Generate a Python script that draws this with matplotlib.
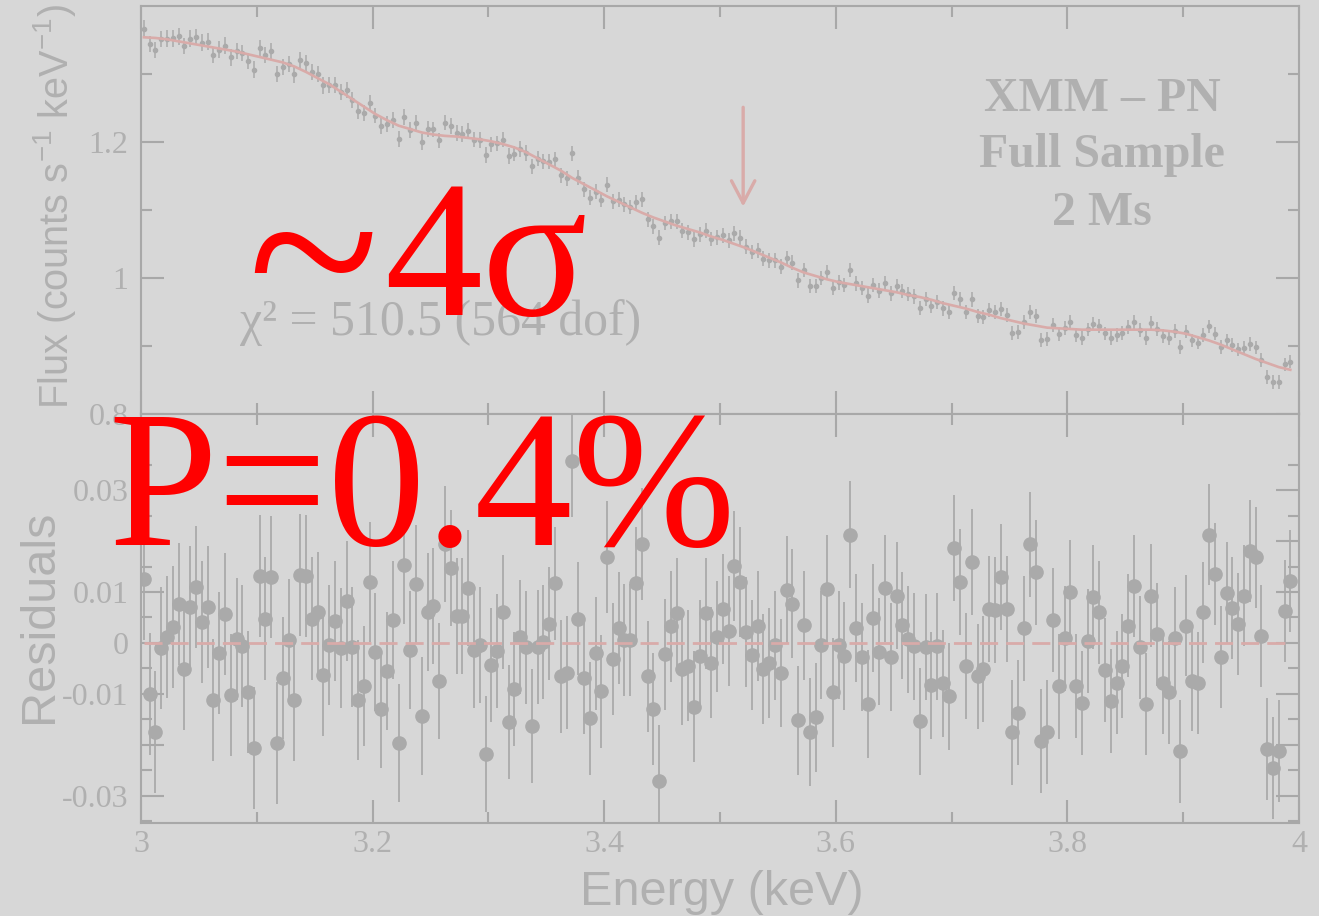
import numpy as np
import matplotlib
matplotlib.use("Agg")
import matplotlib.pyplot as plt
from matplotlib.ticker import FixedLocator, FixedFormatter, NullFormatter

plt.rcParams["axes.unicode_minus"] = False
plt.rcParams["mathtext.fontset"] = "custom"
plt.rcParams["mathtext.rm"] = "Liberation Sans"
plt.rcParams["mathtext.it"] = "Liberation Sans:italic"
plt.rcParams["mathtext.bf"] = "Liberation Sans:bold"

# Spectral bins: 5 eV wide, first bin centred at 3.0025 keV
BIN_START = 3.0025
BIN_WIDTH = 0.005
N_BINS = 199

# Observed flux (counts s^-1 keV^-1) per bin
FLUX = [1.3667, 1.3438, 1.3356, 1.3512, 1.3521, 1.3524, 1.3553, 1.3411, 1.3520, 1.3545,
        1.3462, 1.3477, 1.3279, 1.3358, 1.3419, 1.3244, 1.3336, 1.3305, 1.3195, 1.3066,
        1.3386, 1.3282, 1.3343, 1.2996, 1.3100, 1.3146, 1.2994, 1.3203, 1.3160, 1.3034,
        1.3001, 1.2831, 1.2841, 1.2838, 1.2732, 1.2769, 1.2622, 1.2460, 1.2432, 1.2580,
        1.2389, 1.2230, 1.2260, 1.2323, 1.2048, 1.2369, 1.2175, 1.2281, 1.2000, 1.2187,
        1.2185, 1.2025, 1.2286, 1.2232, 1.2129, 1.2120, 1.2167, 1.2034, 1.2031, 1.1806,
        1.1965, 1.1978, 1.2035, 1.1794, 1.1830, 1.1896, 1.1837, 1.1641, 1.1753, 1.1718,
        1.1710, 1.1743, 1.1511, 1.1467, 1.1832, 1.1472, 1.1307, 1.1182, 1.1266, 1.1149,
        1.1371, 1.1128, 1.1148, 1.1084, 1.1044, 1.1116, 1.1157, 1.0861, 1.0763, 1.0591,
        1.0810, 1.0836, 1.0833, 1.0695, 1.0675, 1.0568, 1.0641, 1.0697, 1.0574, 1.0599,
        1.0628, 1.0556, 1.0656, 1.0592, 1.0462, 1.0384, 1.0406, 1.0286, 1.0261, 1.0259,
        1.0167, 1.0291, 1.0227, 0.9964, 1.0119, 0.9880, 0.9882, 0.9998, 1.0084, 0.9860,
        0.9934, 0.9896, 1.0119, 0.9921, 0.9849, 0.9742, 0.9897, 0.9816, 0.9925, 0.9774,
        0.9880, 0.9806, 0.9761, 0.9729, 0.9563, 0.9688, 0.9592, 0.9647, 0.9553, 0.9506,
        0.9777, 0.9687, 0.9502, 0.9684, 0.9437, 0.9429, 0.9525, 0.9500, 0.9541, 0.9455,
        0.9190, 0.9210, 0.9358, 0.9507, 0.9438, 0.9092, 0.9099, 0.9309, 0.9172, 0.9261,
        0.9347, 0.9159, 0.9123, 0.9243, 0.9329, 0.9297, 0.9184, 0.9124, 0.9161, 0.9194,
        0.9275, 0.9355, 0.9235, 0.9123, 0.9333, 0.9252, 0.9149, 0.9122, 0.9218, 0.8981,
        0.9211, 0.9081, 0.9051, 0.9164, 0.9289, 0.9182, 0.8988, 0.9082, 0.9017, 0.8951,
        0.8973, 0.9027, 0.8980, 0.8794, 0.8540, 0.8472, 0.8475, 0.8728, 0.8770]

# Best-fit model, sampled at every second bin
MODEL = [1.354, 1.353, 1.351, 1.348, 1.345, 1.342, 1.339, 1.336, 1.333, 1.329,
         1.325, 1.321, 1.317, 1.311, 1.303, 1.294, 1.285, 1.274, 1.263, 1.252,
         1.241, 1.232, 1.224, 1.219, 1.214, 1.211, 1.209, 1.208, 1.206, 1.204,
         1.201, 1.197, 1.192, 1.185, 1.176, 1.167, 1.158, 1.147, 1.138, 1.129,
         1.120, 1.112, 1.104, 1.096, 1.089, 1.083, 1.077, 1.072, 1.067, 1.061,
         1.056, 1.050, 1.044, 1.037, 1.030, 1.023, 1.015, 1.008, 1.003, 0.998,
         0.994, 0.991, 0.988, 0.985, 0.982, 0.979, 0.975, 0.972, 0.968, 0.963,
         0.959, 0.955, 0.950, 0.946, 0.941, 0.937, 0.933, 0.930, 0.927, 0.926,
         0.925, 0.924, 0.924, 0.924, 0.924, 0.924, 0.924, 0.924, 0.923, 0.921,
         0.918, 0.913, 0.908, 0.902, 0.895, 0.888, 0.881, 0.875, 0.869, 0.865]

# Data minus model per bin
RESID = [0.0125, -0.0101, -0.0176, -0.0010, 0.0012, 0.0032, 0.0076, -0.0052, 0.0071, 0.0110,
         0.0041, 0.0070, -0.0113, -0.0019, 0.0057, -0.0102, 0.0007, -0.0006, -0.0097, -0.0207,
         0.0132, 0.0048, 0.0129, -0.0197, -0.0069, 0.0006, -0.0113, 0.0133, 0.0131, 0.0048,
         0.0060, -0.0064, -0.0005, 0.0043, -0.0010, 0.0082, -0.0008, -0.0112, -0.0084, 0.0120,
         -0.0018, -0.0129, -0.0056, 0.0045, -0.0197, 0.0154, -0.0014, 0.0116, -0.0144, 0.0061,
         0.0073, -0.0075, 0.0195, 0.0148, 0.0052, 0.0052, 0.0108, -0.0014, -0.0005, -0.0218,
         -0.0044, -0.0015, 0.0061, -0.0156, -0.0090, 0.0011, -0.0009, -0.0163, -0.0008, 0.0001,
         0.0038, 0.0117, -0.0066, -0.0059, 0.0358, 0.0048, -0.0069, -0.0148, -0.0020, -0.0095,
         0.0169, -0.0032, 0.0029, 0.0006, 0.0006, 0.0117, 0.0195, -0.0066, -0.0130, -0.0271,
         -0.0022, 0.0033, 0.0058, -0.0052, -0.0045, -0.0125, -0.0025, 0.0058, -0.0039, 0.0012,
         0.0067, 0.0023, 0.0152, 0.0119, 0.0022, -0.0023, 0.0033, -0.0052, -0.0040, -0.0005,
         -0.0059, 0.0104, 0.0077, -0.0152, 0.0035, -0.0175, -0.0146, -0.0004, 0.0106, -0.0097,
         -0.0004, -0.0025, 0.0213, 0.0029, -0.0028, -0.0120, 0.0049, -0.0017, 0.0107, -0.0028,
         0.0093, 0.0035, 0.0007, -0.0007, -0.0154, -0.0008, -0.0083, -0.0007, -0.0079, -0.0105,
         0.0187, 0.0119, -0.0045, 0.0159, -0.0066, -0.0052, 0.0067, 0.0065, 0.0130, 0.0067,
         -0.0176, -0.0137, 0.0029, 0.0194, 0.0139, -0.0193, -0.0175, 0.0045, -0.0085, 0.0009,
         0.0100, -0.0084, -0.0118, 0.0004, 0.0091, 0.0060, -0.0053, -0.0114, -0.0078, -0.0046,
         0.0034, 0.0112, -0.0009, -0.0120, 0.0093, 0.0017, -0.0079, -0.0097, 0.0009, -0.0213,
         0.0034, -0.0074, -0.0079, 0.0060, 0.0213, 0.0135, -0.0028, 0.0099, 0.0068, 0.0037,
         0.0093, 0.0181, 0.0168, 0.0014, -0.0208, -0.0246, -0.0213, 0.0063, 0.0122]

# 1-sigma uncertainty per bin (same for flux and residual)
ERR = [0.0120, 0.0120, 0.0120, 0.0120, 0.0120, 0.0120, 0.0120, 0.0120, 0.0120, 0.0120,
       0.0120, 0.0120, 0.0120, 0.0120, 0.0120, 0.0120, 0.0120, 0.0120, 0.0120, 0.0120,
       0.0120, 0.0120, 0.0120, 0.0120, 0.0120, 0.0120, 0.0120, 0.0120, 0.0120, 0.0120,
       0.0118, 0.0118, 0.0118, 0.0118, 0.0118, 0.0118, 0.0118, 0.0118, 0.0118, 0.0118,
       0.0116, 0.0116, 0.0116, 0.0116, 0.0116, 0.0116, 0.0116, 0.0116, 0.0116, 0.0116,
       0.0114, 0.0114, 0.0114, 0.0114, 0.0114, 0.0114, 0.0114, 0.0114, 0.0114, 0.0114,
       0.0112, 0.0112, 0.0112, 0.0112, 0.0112, 0.0112, 0.0112, 0.0112, 0.0112, 0.0112,
       0.0111, 0.0111, 0.0111, 0.0111, 0.0111, 0.0111, 0.0111, 0.0111, 0.0111, 0.0111,
       0.0110, 0.0110, 0.0110, 0.0110, 0.0110, 0.0110, 0.0110, 0.0110, 0.0110, 0.0110,
       0.0109, 0.0109, 0.0109, 0.0109, 0.0109, 0.0109, 0.0109, 0.0109, 0.0109, 0.0109,
       0.0108, 0.0108, 0.0108, 0.0108, 0.0108, 0.0108, 0.0108, 0.0108, 0.0108, 0.0108,
       0.0107, 0.0107, 0.0107, 0.0107, 0.0107, 0.0107, 0.0107, 0.0107, 0.0107, 0.0107,
       0.0106, 0.0106, 0.0106, 0.0106, 0.0106, 0.0106, 0.0106, 0.0106, 0.0106, 0.0106,
       0.0105, 0.0105, 0.0105, 0.0105, 0.0105, 0.0105, 0.0105, 0.0105, 0.0105, 0.0105,
       0.0104, 0.0104, 0.0104, 0.0104, 0.0104, 0.0104, 0.0104, 0.0104, 0.0104, 0.0104,
       0.0103, 0.0103, 0.0103, 0.0103, 0.0103, 0.0103, 0.0103, 0.0103, 0.0103, 0.0103,
       0.0102, 0.0102, 0.0102, 0.0102, 0.0102, 0.0102, 0.0102, 0.0102, 0.0102, 0.0102,
       0.0101, 0.0101, 0.0101, 0.0101, 0.0101, 0.0101, 0.0101, 0.0101, 0.0101, 0.0101,
       0.0100, 0.0100, 0.0100, 0.0100, 0.0100, 0.0100, 0.0100, 0.0100, 0.0100, 0.0100,
       0.0100, 0.0100, 0.0100, 0.0100, 0.0100, 0.0100, 0.0100, 0.0100, 0.0100]

# Candidate line energy and arrow extent
LINE_E = 3.52
ARROW_FROM, ARROW_TO = 1.251, 1.105

X_TICKS = [3, 3.2, 3.4, 3.6, 3.8, 4]
X_TICK_LABELS = ["3", "3.2", "3.4", "3.6", "3.8", "4"]
X_MINOR = [3.1, 3.3, 3.5, 3.7, 3.9]
FLUX_TICKS = [0.8, 1.0, 1.2]
FLUX_TICK_LABELS = ["0.8", "1", "1.2"]
FLUX_MINOR = [0.9, 1.1, 1.3]
RES_TICKS = [-0.03, -0.02, -0.01, 0, 0.01, 0.02, 0.03]
RES_TICK_LABELS = ["-0.03", "", "-0.01", "0", "0.01", "", "0.03"]
RES_MINOR = [-0.035, -0.025, -0.015, -0.005, 0.005, 0.015, 0.025, 0.035]

energy = BIN_START + BIN_WIDTH * np.arange(N_BINS)

BG = "#d7d7d7"
AX = "#a8a8a8"
TXT = "#b0b0b0"
DAT = "#aaaaaa"
MOD = "#d9aba9"
RED = "#ff0000"
W, H = 1319, 916

fig = plt.figure(figsize=(W / 100, H / 100), dpi=100, facecolor=BG)
ax1 = fig.add_axes([141 / W, 1 - 414 / H, 1158 / W, 408 / H], facecolor=BG)
ax2 = fig.add_axes([141 / W, 1 - 823 / H, 1158 / W, 409 / H], facecolor=BG)

# Spectrum with model
ax1.errorbar(energy, FLUX, yerr=ERR, fmt="o", ms=3, color=DAT, elinewidth=1.1, capsize=0, zorder=2)
ax1.plot(energy[::2], MODEL, color=MOD, lw=1.9, zorder=3)
ax1.annotate("", xy=(LINE_E, ARROW_TO), xytext=(LINE_E, ARROW_FROM),
             arrowprops=dict(arrowstyle="->,head_length=0.8,head_width=0.42", color=MOD, lw=2.4,
                             mutation_scale=20, shrinkA=0, shrinkB=0))
ax1.set_xlim(3, 4)
ax1.set_ylim(0.8, 1.4)

# Residuals
ax2.errorbar(energy, RESID, yerr=ERR, fmt="o", ms=9.5, color=DAT, elinewidth=1.3, capsize=0, zorder=2)
ax2.hlines(0, energy[0], energy[-1], colors=MOD, linestyles=(0, (6.5, 2.9)), lw=2, zorder=3)
ax2.set_xlim(3, 4)
ax2.set_ylim(-0.0354, 0.045)

ax1.yaxis.set_major_locator(FixedLocator(FLUX_TICKS))
ax1.yaxis.set_major_formatter(FixedFormatter(FLUX_TICK_LABELS))
ax1.yaxis.set_minor_locator(FixedLocator(FLUX_MINOR))
ax2.yaxis.set_major_locator(FixedLocator(RES_TICKS))
ax2.yaxis.set_major_formatter(FixedFormatter(RES_TICK_LABELS))
ax2.yaxis.set_minor_locator(FixedLocator(RES_MINOR))

for ax in (ax1, ax2):
    for s in ax.spines.values():
        s.set_color(AX)
        s.set_linewidth(1.5)
    ax.xaxis.set_major_locator(FixedLocator(X_TICKS))
    ax.xaxis.set_minor_locator(FixedLocator(X_MINOR))
    ax.tick_params(which="both", direction="in", top=True, right=True, color=AX, width=1.5,
                   labelcolor=TXT, labelsize=23)
    ax.tick_params(which="major", length=16.5)
    ax.tick_params(which="minor", length=8)
    ax.tick_params(axis="y", pad=9)
    ax.tick_params(axis="x", pad=5)
ax1.xaxis.set_major_formatter(NullFormatter())
ax2.xaxis.set_major_formatter(FixedFormatter(X_TICK_LABELS))
for ax in (ax1, ax2):
    for lab in ax.get_xticklabels() + ax.get_yticklabels():
        lab.set_family("Liberation Serif")


def fx(px):
    return px / W


def fy(py):
    return 1 - py / H


fig.text(fx(68), fy(207), r"Flux (counts s$^{-1}$ keV$^{-1}$)", rotation=90,
         rotation_mode="anchor", ha="center", va="baseline", fontsize=28.5, color=TXT, family="Liberation Sans")
fig.text(fx(52), fy(616), "Residuals", rotation=90, rotation_mode="anchor", ha="center", va="baseline",
         fontsize=35, color=TXT, family="Liberation Sans")
fig.text(fx(722), fy(905), "Energy (keV)", ha="center", va="baseline", fontsize=35, color=TXT,
         family="Liberation Sans")
fig.text(fx(240), fy(335), "\u03c7\u00b2 = 510.5 (564 dof)", ha="left", va="baseline", fontsize=35.8,
         color=TXT, family="Liberation Serif")
for line, yb in (("XMM \u2013 PN", 111), ("Full Sample", 167), ("2 Ms", 225)):
    fig.text(fx(1102), fy(yb), line, ha="center", va="baseline", fontsize=34.5, fontweight="bold",
             color=TXT, family="Liberation Serif")

# Significance annotations
fig.text(fx(247), fy(333), "~", ha="left", va="baseline", fontsize=175, color=RED,
         family="Liberation Serif", zorder=10)
fig.text(fx(384), fy(315), "4\u03c3", ha="left", va="baseline", fontsize=141, color=RED,
         family="Liberation Serif", zorder=10)
fig.text(fx(108), fy(545), "P=0.4%", ha="left", va="baseline", fontsize=141, color=RED,
         family="Liberation Serif", zorder=10)

fig.savefig("out.png", dpi=100, facecolor=BG)
